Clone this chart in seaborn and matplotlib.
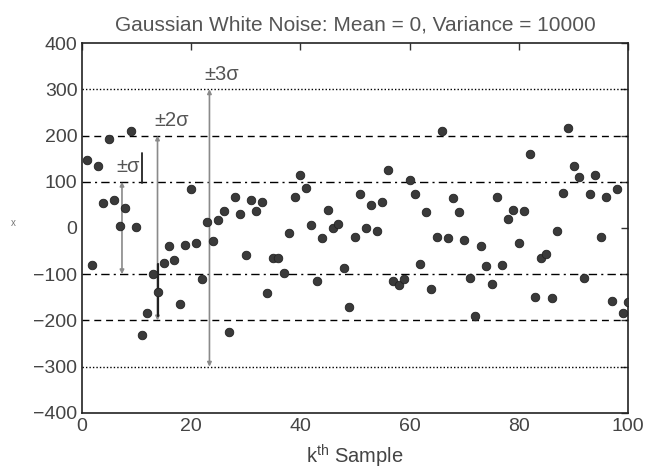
import numpy as np
import pandas as pd
import matplotlib
matplotlib.use("Agg")
import matplotlib.pyplot as plt
import seaborn as sns

# ---- data ----
samples = list(range(1, 101))
values = [148, -79, 134, 55, 192, 61, 4, 44, 209, 3,
          -232, -183, -100, -138, -75, -38, -69, -164, -36, 84,
          -32, -111, 12, -29, 17, 37, -226, 66, 31, -59,
          60, 37, 57, -140, -64, -64, -97, -11, 67, 114,
          87, 7, -114, -21, 39, 1, 9, -86, -171, -20,
          73, -1, 49, -7, 57, 126, -114, -124, -111, 103,
          74, -77, 34, -131, -19, 210, -21, 64, 34, -26,
          -109, -190, -40, -83, -121, 67, -81, 19, 39, -33,
          36, 160, -149, -64, -57, -152, -6, 75, 216, 135,
          111, -109, 74, 114, -20, 68, -157, 84, -184, -161]
sigma_levels = [100, 200, 300]
sigma_labels = ["±σ", "±2σ", "±3σ"]
sigma_arrow_x = [7.4, 13.9, 23.4]
sigma_label_x = [8.6, 16.4, 25.6]
yticks = [-400, -300, -200, -100, 0, 100, 200, 300, 400]
xticks = [0, 20, 40, 60, 80, 100]

df = pd.DataFrame({"k": samples, "x": values})

sns.set_style("white")
plt.rcParams["font.family"] = ["Liberation Sans", "DejaVu Sans"]

fig = plt.figure(figsize=(6.47, 4.73), dpi=100)
ax = fig.add_axes([0.126, 0.127, 0.845, 0.782])

# reference lines
styles = {100: (0, (6, 3, 1.5, 3)), 200: (0, (5, 3.5)), 300: (0, (1, 1.5))}
for lv in sigma_levels:
    for s in (1, -1):
        ax.axhline(s * lv, color="black", lw=1.0, linestyle=styles[lv], zorder=1)

sns.scatterplot(data=df, x="k", y="x", ax=ax, s=38, color="#3a3a3a",
                edgecolor="#222222", linewidth=0.6, zorder=3, legend=False)

# sigma arrows and labels
for lv, lab, xa, xl in zip(sigma_levels, sigma_labels, sigma_arrow_x, sigma_label_x):
    ax.annotate("", xy=(xa, lv), xytext=(xa, -lv),
                arrowprops=dict(arrowstyle="<|-|>", color="#8a8a8a", lw=1.2,
                                mutation_scale=6, shrinkA=0, shrinkB=0), zorder=2)
    ax.text(xl, lv + 12, lab, ha="center", va="bottom",
            fontsize=14.5, color="#555555")
ax.plot([11.0, 11.0], [98, 162], color="#222222", lw=1.3, zorder=2)
ax.plot([13.9, 13.9], [-77, -190], color="#222222", lw=1.6, zorder=2)

ax.set_xlim(0, 100)
ax.set_ylim(-400, 400)
ax.set_xticks(xticks)
ax.set_yticks(yticks)
ax.set_yticklabels([str(t).replace("-", "\u2212") for t in yticks])
ax.tick_params(direction="in", length=5, width=1, top=True, right=True,
               labelsize=14, colors="#333333", labelcolor="#444444")
ax.tick_params(axis="x", pad=4)
ax.tick_params(axis="y", pad=3)
for sp in ax.spines.values():
    sp.set_color("#222222")
    sp.set_linewidth(1.2)

ax.set_title("Gaussian White Noise: Mean = 0, Variance = 10000",
             fontsize=15, color="#555555", pad=9)
ax.set_xlabel("k$^{\\mathregular{th}}$ Sample", fontsize=14.5, color="#444444", labelpad=5)
ax.set_ylabel("x", fontsize=7, color="#777777", rotation=0, labelpad=14)

fig.savefig("out.png", dpi=100)
